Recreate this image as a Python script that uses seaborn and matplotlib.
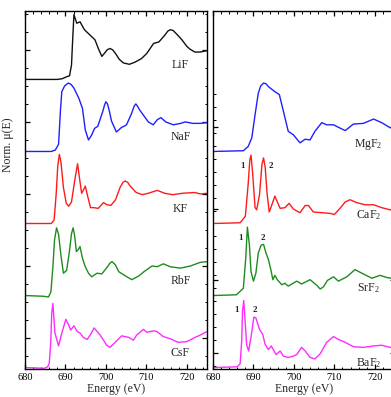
import numpy as np
import pandas as pd
import matplotlib
matplotlib.use("Agg")
import matplotlib.pyplot as plt
import seaborn as sns
from matplotlib.ticker import MultipleLocator, FixedLocator, NullFormatter

# ---- F K-edge XANES spectra (normalised mu(E)) ----
lif_e = [680, 688, 689.2, 690.3, 691.0, 691.5, 691.8, 692.1, 692.8, 693.6, 694.7, 696.0, 697.3,
         698.2, 699.0, 699.6, 700.3, 701.0, 701.7, 702.5, 703.3, 704.3, 705.8, 707.2, 708.8,
         710.1, 711.8, 713.1, 714.5, 715.3, 715.9, 716.6, 717.5, 718.8, 720.0, 720.8, 722.0,
         723.3, 725]
lif_mu = [0, 0, 0.01, 0.037, 0.05, 0.2, 0.57, 0.90, 0.78, 0.80, 0.69, 0.62, 0.55,
          0.42, 0.32, 0.36, 0.41, 0.43, 0.41, 0.35, 0.28, 0.23, 0.21, 0.24, 0.29,
          0.36, 0.50, 0.52, 0.61, 0.67, 0.69, 0.68, 0.63, 0.55, 0.46, 0.42, 0.38,
          0.38, 0.40]

naf_e = [680, 686.5, 687.5, 688.3, 688.8, 689.1, 689.8, 690.7, 691.4, 692.1, 693.3, 694.2, 694.9,
         695.7, 696.4, 697.2, 698.0, 699.2, 699.7, 700.0, 700.4, 700.9, 701.4, 702.6, 703.8,
         705.1, 706.3, 707.0, 707.4, 707.8, 708.3, 709.2, 710.5, 711.7, 712.7, 713.6, 714.8,
         716.7, 718.5, 719.6, 721.5, 723.3, 725]
naf_mu = [0, 0, 0.02, 0.1, 0.6, 0.83, 0.91, 0.95, 0.93, 0.88, 0.74, 0.60, 0.3,
          0.16, 0.22, 0.32, 0.35, 0.55, 0.65, 0.69, 0.66, 0.55, 0.42, 0.27, 0.33,
          0.37, 0.52, 0.63, 0.66, 0.63, 0.58, 0.51, 0.41, 0.37, 0.44, 0.47, 0.41,
          0.37, 0.39, 0.41, 0.39, 0.39, 0.40]

kf_e = [680, 686.5, 687.2, 687.7, 688.1, 688.5, 688.9, 689.5, 690.2, 690.8, 691.5, 692.3, 693.0,
        693.5, 694.0, 694.5, 694.9, 695.4, 696.2, 697.0, 698.1, 699.4, 700.3, 701.2, 702.4,
        703.5, 704.2, 704.8, 705.4, 706.0, 707.5, 709.0, 710.5, 712.7, 714.5, 716.5, 719.0,
        721.9, 723.5, 725]
kf_mu = [0, 0, 0.05, 0.4, 0.8, 0.96, 0.85, 0.5, 0.28, 0.24, 0.3, 0.6, 0.83,
         0.62, 0.42, 0.47, 0.52, 0.4, 0.22, 0.22, 0.21, 0.29, 0.26, 0.25, 0.33,
         0.5, 0.57, 0.59, 0.57, 0.52, 0.43, 0.40, 0.42, 0.46, 0.42, 0.40, 0.42,
         0.43, 0.41, 0.42]

rbf_e = [680, 684.5, 685.8, 686.4, 686.9, 687.3, 687.8, 688.3, 688.9, 689.5, 690.3, 691.0, 691.5,
         691.9, 692.3, 692.7, 693.2, 693.6, 694.2, 694.9, 695.7, 696.5, 697.8, 699.0, 700.4,
         701.0, 701.5, 702.3, 703.2, 704.9, 706.4, 708.1, 709.4, 711.4, 712.7, 714.2, 715.9,
         718.4, 720.9, 723.3, 725]
rbf_mu = [0, -0.01, -0.02, 0.05, 0.4, 0.77, 0.94, 0.85, 0.55, 0.31, 0.35, 0.62, 0.86,
          0.94, 0.82, 0.61, 0.64, 0.68, 0.52, 0.40, 0.31, 0.26, 0.31, 0.30, 0.40,
          0.45, 0.47, 0.43, 0.33, 0.27, 0.22, 0.27, 0.33, 0.41, 0.40, 0.44, 0.40,
          0.38, 0.41, 0.46, 0.47]

csf_e = [680, 684.8, 685.6, 686.0, 686.4, 686.6, 686.9, 687.1, 687.4, 688.3, 689.1, 690.1, 690.8,
         691.3, 692.1, 692.9, 693.6, 694.4, 695.4, 696.2, 697.1, 698.6, 700.2, 701.0, 702.3,
         703.9, 705.6, 706.8, 707.6, 709.3, 710.1, 711.8, 712.6, 714.2, 715.9, 717.9, 720.0,
         722.1, 723.3, 725]
csf_mu = [0, -0.01, 0.01, 0.06, 0.38, 0.75, 0.89, 0.72, 0.48, 0.30, 0.48, 0.67, 0.59,
          0.52, 0.58, 0.50, 0.48, 0.42, 0.39, 0.46, 0.55, 0.45, 0.31, 0.28, 0.35,
          0.44, 0.42, 0.38, 0.45, 0.53, 0.49, 0.51, 0.50, 0.43, 0.40, 0.35, 0.36,
          0.42, 0.45, 0.50]

mgf2_e = [680, 687.5, 688.7, 689.6, 690.4, 691.2, 691.8, 692.5, 693.1, 693.7, 695.3, 696.4, 697.4,
          698.6, 699.9, 701.5, 702.8, 704.0, 705.2, 706.9, 708.1, 709.8, 711.2, 712.7, 714.7,
          717.2, 719.7, 721.7, 723.8, 725]
mgf2_mu = [0, 0.01, 0.07, 0.19, 0.51, 0.81, 0.91, 0.95, 0.94, 0.90, 0.83, 0.79, 0.56,
           0.28, 0.23, 0.12, 0.17, 0.16, 0.28, 0.40, 0.37, 0.37, 0.33, 0.29, 0.38,
           0.39, 0.45, 0.40, 0.33, 0.32]

caf2_e = [680, 686.7, 688.0, 688.7, 689.1, 689.4, 689.8, 690.4, 690.8, 691.5, 692.1, 692.5, 692.9,
          693.4, 693.9, 694.5, 695.3, 695.9, 696.6, 697.8, 698.8, 699.9, 701.5, 702.8, 703.6,
          704.8, 706.9, 709.0, 710.0, 711.4, 712.7, 713.9, 715.5, 717.6, 719.7, 721.7, 723.8, 725]
caf2_mu = [0, 0.01, 0.1, 0.55, 0.88, 0.95, 0.7, 0.22, 0.19, 0.4, 0.82, 0.91, 0.78,
           0.4, 0.16, 0.25, 0.38, 0.30, 0.21, 0.22, 0.28, 0.20, 0.15, 0.25, 0.25,
           0.16, 0.15, 0.14, 0.125, 0.21, 0.30, 0.33, 0.29, 0.26, 0.26, 0.22, 0.19, 0.19]

srf2_e = [680, 685.8, 687.5, 688.1, 688.5, 689.0, 689.4, 690.0, 690.6, 691.2, 691.9, 692.5, 693.1,
          693.7, 694.3, 694.8, 695.3, 695.9, 697.0, 697.8, 698.6, 700.7, 701.9, 704.0, 705.7,
          706.5, 707.3, 708.3, 709.8, 711.0, 713.1, 715.1, 716.8, 719.3, 721.3, 723.0, 725]
srf2_mu = [0, 0.01, 0.10, 0.52, 0.95, 0.70, 0.33, 0.20, 0.31, 0.59, 0.70, 0.71, 0.59,
           0.50, 0.36, 0.22, 0.28, 0.22, 0.15, 0.17, 0.13, 0.20, 0.16, 0.22, 0.14,
           0.09, 0.12, 0.21, 0.26, 0.20, 0.26, 0.36, 0.31, 0.24, 0.28, 0.25, 0.23]

baf2_e = [680, 685.9, 686.7, 687.1, 687.3, 687.6, 688.0, 688.3, 688.8, 689.4, 690.1, 690.6, 691.5,
          692.3, 692.9, 693.7, 694.4, 694.9, 695.6, 696.6, 697.4, 698.6, 699.9, 700.7, 701.9,
          702.8, 704.0, 705.2, 706.5, 708.1, 709.8, 711.0, 712.7, 714.7, 717.2, 719.7, 721.7,
          723.8, 725]
baf2_mu = [0, 0.01, 0.05, 0.37, 0.79, 0.93, 0.60, 0.32, 0.23, 0.42, 0.70, 0.69, 0.53,
           0.46, 0.32, 0.25, 0.30, 0.25, 0.18, 0.23, 0.16, 0.14, 0.16, 0.18, 0.28,
           0.23, 0.14, 0.12, 0.19, 0.35, 0.43, 0.39, 0.35, 0.29, 0.28, 0.30, 0.31,
           0.28, 0.28]

# stacking order, top to bottom
left_samples = ["LiF", "NaF", "KF", "RbF", "CsF"]
right_samples = ["MgF2", "CaF2", "SrF2", "BaF2"]
sample_labels = {"LiF": "LiF", "NaF": "NaF", "KF": "KF", "RbF": "RbF", "CsF": "CsF",
                 "MgF2": "MgF$_2$", "CaF2": "CaF$_2$", "SrF2": "SrF$_2$", "BaF2": "BaF$_2$"}
spectra = {"LiF": (lif_e, lif_mu), "NaF": (naf_e, naf_mu), "KF": (kf_e, kf_mu),
           "RbF": (rbf_e, rbf_mu), "CsF": (csf_e, csf_mu), "MgF2": (mgf2_e, mgf2_mu),
           "CaF2": (caf2_e, caf2_mu), "SrF2": (srf2_e, srf2_mu), "BaF2": (baf2_e, baf2_mu)}
colors = {"LiF": "#111111", "NaF": "#1f1fff", "KF": "#ff1a1a", "RbF": "#1e8c1e", "CsF": "#ff2bff",
          "MgF2": "#1f1fff", "CaF2": "#ff1a1a", "SrF2": "#1e8c1e", "BaF2": "#ff2bff"}
peak_labels = ["1", "2"]


def stacked_frame(samples):
    rows = []
    n = len(samples)
    for i, s in enumerate(samples):
        e, mu = spectra[s]
        off = n - 1 - i
        rows.append(pd.DataFrame({"energy": e, "mu": np.asarray(mu) + off, "sample": s}))
    return pd.concat(rows, ignore_index=True)


sns.set_theme(style="ticks")
plt.rcParams.update({
    "font.family": ["Liberation Serif", "DejaVu Serif"],
    "mathtext.fontset": "custom",
    "mathtext.rm": "Liberation Serif",
    "mathtext.it": "Liberation Serif:italic",
    "mathtext.bf": "Liberation Serif:bold",
    "xtick.direction": "in",
    "ytick.direction": "in",
    "axes.linewidth": 1.0,
    "lines.solid_joinstyle": "round",
})

W, H = 391, 397
fig = plt.figure(figsize=(W / 100, H / 100), dpi=100)
ax_l = fig.add_axes([25 / W, 28 / H, 182 / W, 358 / H])
ax_r = fig.add_axes([213 / W, 28 / H, 182 / W, 358 / H])

df_l = stacked_frame(left_samples)
df_r = stacked_frame(right_samples)
sns.lineplot(data=df_l, x="energy", y="mu", hue="sample", palette=colors, estimator=None,
             sort=False, legend=False, lw=1.0, ax=ax_l)
sns.lineplot(data=df_r, x="energy", y="mu", hue="sample", palette=colors, estimator=None,
             sort=False, legend=False, lw=1.0, ax=ax_r)

for ax in (ax_l, ax_r):
    ax.set_xlim(680, 725)
    ax.set_ylim(-0.02, 4.95)
    ax.xaxis.set_major_locator(MultipleLocator(10))
    ax.xaxis.set_minor_locator(MultipleLocator(2))
    ax.tick_params(axis="both", which="both", top=True, right=True, colors="black")
    ax.tick_params(axis="both", which="major", length=3.5, width=0.9, labelsize=7.5, pad=3)
    ax.tick_params(axis="both", which="minor", length=1.8, width=0.7)
    ax.tick_params(axis="y", labelleft=False)
    ax.set_xlabel("Energy (eV)", fontsize=8.5, labelpad=0.5)
    ax.set_ylabel("")
    for sp in ax.spines.values():
        sp.set_color("black")

ax_l.yaxis.set_major_locator(FixedLocator([0.41, 1.41, 2.41, 3.41, 4.41]))
ax_l.yaxis.set_minor_locator(FixedLocator(np.arange(-0.09, 4.95, 0.25)))
ax_r.yaxis.set_major_locator(FixedLocator([0.20, 1.22, 2.20, 3.34]))
ax_r.yaxis.set_minor_locator(FixedLocator(np.arange(0.02, 3.9, 0.18)))
for ax in (ax_l, ax_r):
    ax.yaxis.set_major_formatter(NullFormatter())

# sample names beside each trace
for i, s in enumerate(left_samples):
    off = len(left_samples) - 1 - i
    ax_l.text(718.4, off + 0.2, sample_labels[s], ha="center", va="center", fontsize=8.5)
right_dy = {"MgF2": 0.09, "CaF2": 0.12, "SrF2": 0.1, "BaF2": 0.06}
for i, s in enumerate(right_samples):
    off = len(right_samples) - 1 - i
    ax_r.text(718.4, off + right_dy[s], sample_labels[s], ha="center", va="center", fontsize=8.5)

# numbered pre-edge / main-edge features
peak_marks = {"CaF2": (687.4, 694.4), "SrF2": (686.9, 692.3), "BaF2": (685.9, 690.4)}
for s, xs in peak_marks.items():
    off = len(right_samples) - 1 - right_samples.index(s)
    for lab, xe in zip(peak_labels, xs):
        ax_r.text(xe, off + 0.80, lab, ha="center", va="center", fontsize=6.5, fontweight="bold")

fig.text(8 / W, 1 - 145 / H, "Norm. μ(E)", rotation=90, ha="center", va="center", fontsize=8.5)

fig.savefig("out.png", dpi=100)
